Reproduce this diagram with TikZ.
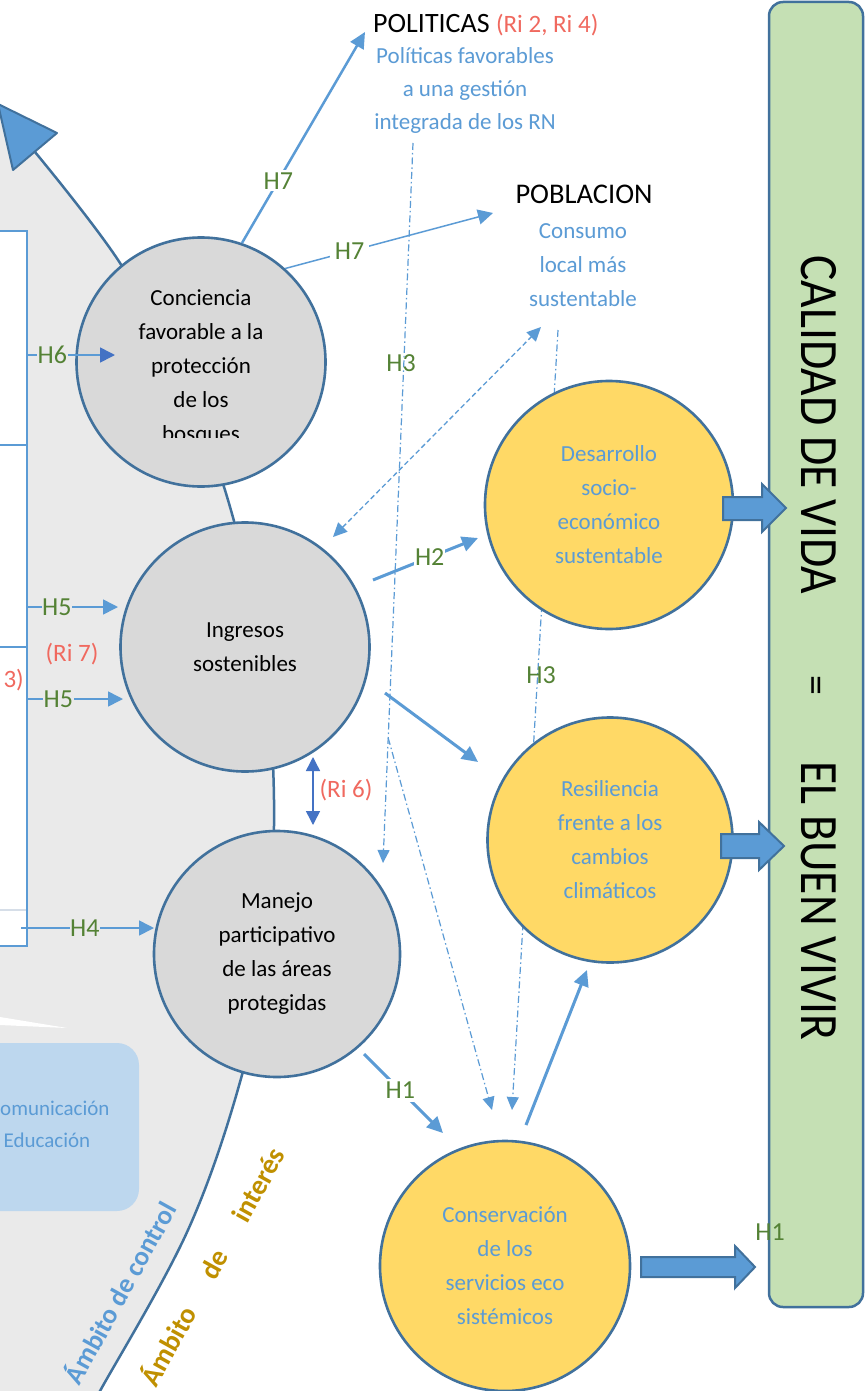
\documentclass[tikz,border=0pt]{standalone}
\usepackage{fontspec}
\setmainfont{Carlito}
\usetikzlibrary{arrows.meta}
\definecolor{edgeblue}{HTML}{41719C}
\definecolor{lineblue}{HTML}{5B9BD5}
\definecolor{darkblue}{HTML}{4472C4}
\definecolor{regiongray}{HTML}{EAEAEA}
\definecolor{circgray}{HTML}{D9D9D9}
\definecolor{yell}{HTML}{FFD966}
\definecolor{bargreen}{HTML}{C5E0B4}
\definecolor{labgreen}{HTML}{548235}
\definecolor{rired}{HTML}{F0695F}
\definecolor{commblue}{HTML}{BDD7EE}
\definecolor{goldtext}{HTML}{C09000}
\newcommand{\myCircFont}{\fontsize{23}{34}\selectfont}
\newcommand{\myLabFont}{\fontsize{26}{26}\selectfont}
\begin{document}
\begin{tikzpicture}[x=1pt,y=-1pt,
  gcirc/.style={circle, draw=edgeblue, line width=2.6pt, fill=circgray, minimum size=249pt, inner sep=0pt, align=center, font=\myCircFont},
  ycirc/.style={gcirc, fill=yell, text=lineblue},
  hlab/.style={text=labgreen, font=\myLabFont, inner sep=2pt},
  rilab/.style={text=rired, font=\fontsize{25}{25}\selectfont, inner sep=1pt},
  thickarrow/.style={lineblue, line width=3pt, -{Triangle[length=16pt,width=15pt]}},
  hzarrow/.style={lineblue, line width=1.6pt, -{Triangle[length=15pt,width=15pt]}},
  dashdotline/.style={lineblue, line width=1.2pt, dash pattern=on 7pt off 3pt on 1.5pt off 3pt, -{Triangle[length=13pt,width=12pt]}},
  bluetext/.style={text=lineblue, font=\fontsize{23}{33}\selectfont, align=center},
  blockarrow/.style={fill=lineblue, draw=edgeblue, line width=2pt, line join=miter},
  bartext/.style={rotate=-90, font=\fontsize{54}{54}\selectfont, inner sep=0pt}
]
\useasboundingbox (0,0) rectangle (865,1391);
\clip (0,0) rectangle (865,1391);
\fill[white] (0,0) rectangle (865,1391);

% control region
\fill[regiongray] (-10,92) -- plot[smooth, tension=0.6] coordinates {(35,152) (120,263) (182,380) (228,500) (262,650) (274,800) (266,950) (242,1075) (188,1230) (100,1391) (95,1400)} -- (-10,1400) -- cycle;
\draw[edgeblue, line width=2.5pt] plot[smooth, tension=0.6] coordinates {(35,152) (120,263) (182,380) (228,500) (262,650) (274,800) (266,950) (242,1075) (188,1230) (100,1391) (95,1400)};
\filldraw[fill=lineblue, draw=edgeblue, line width=2pt, line join=round] (-2,104) -- (57,133) -- (13,170) -- cycle;

% left box
\node[draw=lineblue, line width=2pt, fill=white, minimum width=32pt, minimum height=715pt, inner sep=0pt] (lrect) at (11,588.5) {};
\draw[lineblue, line width=2pt] (-5,445) -- (27,445);
\draw[lineblue, line width=2pt] (-5,647) -- (27,647);
\draw[color={rgb,255:red,214;green,222;blue,232}, line width=2pt] (0,910) -- (26,910);
\node[rilab, anchor=east] (ri3) at (25,680) {3)};

% communication box
\node[fill=commblue, rounded corners=22pt, minimum width=170pt, minimum height=168pt, inner sep=0pt] (comm) at (54,1127) {};
\node[text=lineblue, font=\fontsize{21}{31}\selectfont, anchor=west, inner sep=0pt] (commtext1) at (0,1108) {omunicación};
\node[text=lineblue, font=\fontsize{21}{31}\selectfont, inner sep=0pt] (commtext2) at (47,1140) {Educación};
\fill[white] (0,1017) -- (67,1028) -- (0,1025) -- cycle;

% scope labels
\node[rotate=61, text=lineblue, font=\bfseries\fontsize{27}{27}\selectfont, inner sep=0pt] (actrl) at (119,1292) {Ámbito de control};
\node[rotate=61, text=goldtext, font=\bfseries\fontsize{28}{28}\selectfont, inner sep=0pt] (aint) at (211,1266) {Ámbito\hspace{36pt}de\hspace{36pt}interés};

% top texts
\node[anchor=base west, font=\fontsize{28}{28}\selectfont, inner sep=0pt] (pol) at (373,33) {POLITICAS \textcolor{rired}{\fontsize{25}{25}\selectfont(Ri 2, Ri 4)}};
\node[bluetext] (poltext) at (465,90) {Políticas favorables\\a una gestión\\integrada de los RN};
\node[anchor=base, font=\fontsize{28.5}{28.5}\selectfont, inner sep=0pt] (pob) at (584,204) {POBLACION};
\node[bluetext, font=\fontsize{23}{34}\selectfont] (pobtext) at (583,265) {Consumo\\local más\\sustentable};

% dash-dot connectors (behind circles)
\coordinate (h3top) at (413,143);
\coordinate (h3end) at (383,863);
\coordinate (h3br) at (388.2,738);
\coordinate (h3brend) at (492,1110);
\coordinate (h3bs) at (558,330);
\coordinate (h3be) at (512,1110);
\draw[dashdotline] (h3top) -- (h3end);
\draw[dashdotline] (h3br) -- (h3brend);
\draw[dashdotline] (h3bs) -- (h3be);
\coordinate (dda) at (333,537);
\coordinate (ddb) at (541,327);
\draw[lineblue, line width=1.3pt, dash pattern=on 5pt off 3pt, {Triangle[length=14pt,width=13pt]}-{Triangle[length=14pt,width=13pt]}] (dda) -- (ddb);
\node[hlab] (h3a) at (401,363) {H3};
\node[hlab] (h3b) at (541,675) {H3};

% circles
\node[gcirc] (c1) at (201,362) {};
\begin{scope}
\clip (0,0) rectangle (865,437);
\node[font=\myCircFont, align=center] (c1text) at (201,367.5) {Conciencia\\favorable a la\\protección\\de los\\bosques};
\end{scope}
\node[gcirc] (c2) at (245,647) {Ingresos\\sostenibles};
\node[gcirc, minimum size=246pt] (c3) at (277,954) {Manejo\\participativo\\de las áreas\\protegidas};
\node[ycirc, minimum size=248pt] (y1) at (609,505) {Desarrollo\\socio-\\económico\\sustentable};
\node[ycirc, minimum size=245pt] (y2) at (610,840) {Resiliencia\\frente a los\\cambios\\climáticos};
\node[ycirc, minimum size=250pt] (y3) at (505,1266) {Conservación\\de los\\servicios eco\\sistémicos};

% connectors
\coordinate (poltip) at (365,32);
\coordinate (pobtip) at (493,213);
\draw[thickarrow, line width=2.5pt] (c1.71) -- node[hlab, fill=white, pos=0.295] {H7} (poltip);
\draw[hzarrow, line width=1.5pt] (c1.48) -- node[hlab, fill=white, pos=0.31, inner xsep=5pt] {H7} (pobtip);

\coordinate (h6s) at (28,355);   \coordinate (h6e) at (115,355);
\coordinate (h5as) at (28,607);  \coordinate (h5ae) at (118,607);
\coordinate (h5bs) at (28,699);  \coordinate (h5be) at (123,699);
\coordinate (h4s) at (21,928);   \coordinate (h4e) at (154,928);
\draw[hzarrow, -{Triangle[length=15pt,width=15pt,color=darkblue]}] (h6s) -- node[hlab, fill=regiongray, pos=0.28, inner sep=0.5pt] {H6} (h6e);
\draw[hzarrow] (h5as) -- node[hlab, fill=regiongray, pos=0.32, inner sep=0.5pt] {H5} (h5ae);
\draw[hzarrow] (h5bs) -- node[hlab, fill=regiongray, pos=0.32, inner sep=0.5pt] {H5} (h5be);
\draw[hzarrow] (h4s) -- node[hlab, fill=regiongray, pos=0.48, inner sep=0.5pt] {H4} (h4e);
\node[rilab] (ri7) at (72,654) {(Ri 7)};

\coordinate (ri6a) at (313,757);
\coordinate (ri6b) at (313,825);
\draw[darkblue, line width=1.5pt, {Triangle[length=14pt,width=14pt]}-{Triangle[length=14pt,width=14pt]}] (ri6a) -- (ri6b);
\node[rilab] (ri6) at (346,790) {(Ri 6)};

\coordinate (h2s) at (373,580);   \coordinate (h2e) at (478,538);
\coordinate (irs) at (385,693);   \coordinate (ire) at (478,762);
\coordinate (h1s) at (364,1054);  \coordinate (h1e) at (443,1133);
\coordinate (crs) at (526,1125);  \coordinate (cre) at (587,970);
\draw[thickarrow] (h2s) -- node[hlab, fill=white, pos=0.54, inner sep=1pt] {H2} (h2e);
\draw[thickarrow] (irs) -- (ire);
\draw[thickarrow] (h1s) -- node[hlab, fill=white, pos=0.46, inner sep=3pt] {H1} (h1e);
\draw[thickarrow] (crs) -- (cre);

% quality of life bar
\node[draw=edgeblue, fill=bargreen, rounded corners=14pt, line width=2.5pt, minimum width=94pt, minimum height=1305pt, inner sep=0pt] (bar) at (816,654.5) {};
\node[bartext] (cal) at (819,425) {\scalebox{0.88}[1]{CALIDAD DE VIDA}};
\node[bartext, font=\fontsize{40}{40}\selectfont] (eq) at (812,685) {=};
\node[bartext] (buen) at (819,901) {\scalebox{0.88}[1]{EL BUEN VIVIR}};

% block arrows
\filldraw[blockarrow] (723,497) -- (762,497) -- (762,484) -- (786,508) -- (762,532) -- (762,520) -- (723,520) -- cycle;
\filldraw[blockarrow] (721,834) -- (759,834) -- (759,822) -- (784,846) -- (759,870) -- (759,858) -- (721,858) -- cycle;
\filldraw[blockarrow] (641,1257) -- (735,1257) -- (735,1246) -- (755,1267) -- (735,1288) -- (735,1277) -- (641,1277) -- cycle;
\node[hlab] (h1bar) at (770,1232) {H1};
\end{tikzpicture}
\end{document}
